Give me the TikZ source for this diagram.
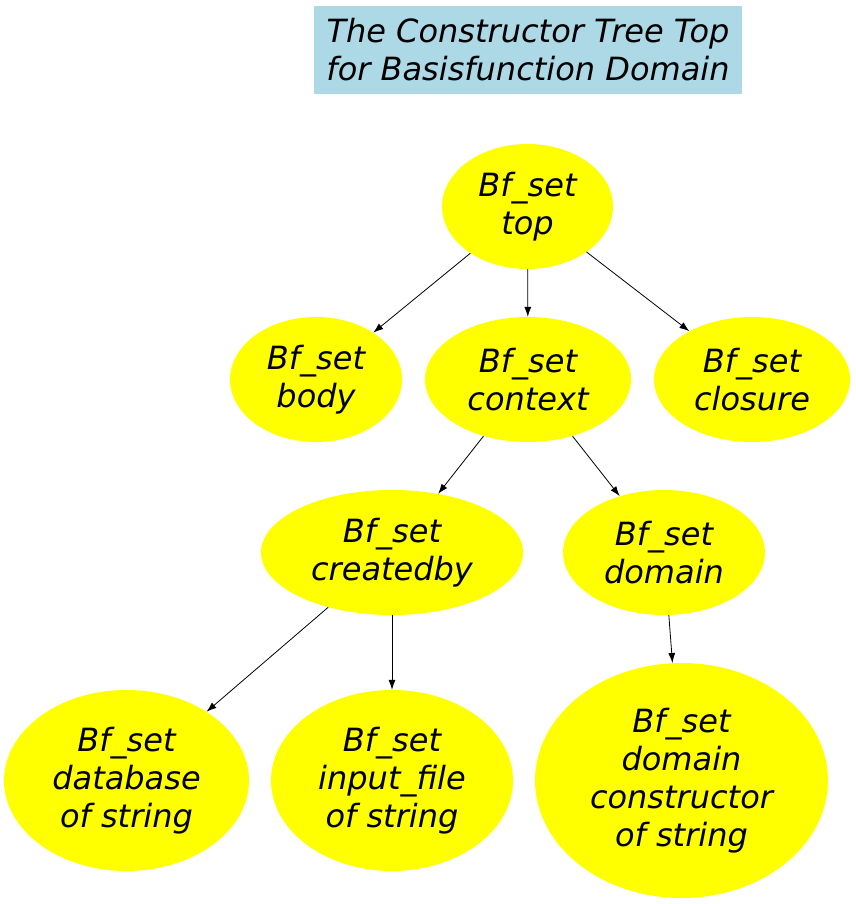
\documentclass[tikz,border=0pt]{standalone}
\usepackage{fontspec}
\setmainfont{DejaVu Sans}
\usetikzlibrary{shapes.geometric,arrows.meta}
\definecolor{lightblue}{RGB}{173,216,230}
\definecolor{pureyellow}{RGB}{255,255,0}
\begin{document}
\begin{tikzpicture}[x=1pt,y=-1pt,
  every node/.style={font=\fontsize{32}{38}\selectfont\itshape, align=center},
  bf/.style={ellipse, fill=pureyellow, inner sep=0pt},
  edge/.style={draw=black, line width=0.8pt, -{Latex[length=10pt,width=7pt]}}]
\useasboundingbox (0,0) rectangle (855,904);
\node[fill=lightblue, minimum width=428pt, minimum height=88pt, inner sep=0pt] (title) at (528,50) {The Constructor Tree Top\\for Basisfunction Domain};
\node[bf, minimum width=171pt, minimum height=125pt] (top) at (527.5,206.5) {Bf\_set\\top};
\node[bf, minimum width=172pt, minimum height=125pt] (body) at (316,379.5) {Bf\_set\\body};
\node[bf, minimum width=206pt, minimum height=125pt] (context) at (528,379.5) {Bf\_set\\context};
\node[bf, minimum width=196pt, minimum height=125pt] (closure) at (752,379.5) {Bf\_set\\closure};
\node[bf, minimum width=262pt, minimum height=125pt] (createdby) at (392,552.5) {Bf\_set\\createdby};
\node[bf, minimum width=202pt, minimum height=125pt] (domain) at (664,552.5) {Bf\_set\\domain};
\node[bf, minimum width=245pt, minimum height=181pt] (database) at (126.5,780.5) {Bf\_set\\database\\of string};
\node[bf, minimum width=242pt, minimum height=181pt] (input) at (392,780.5) {Bf\_set\\input\_file\\of string};
\node[bf, minimum width=293pt, minimum height=235pt] (cons) at (681.5,780.5) {Bf\_set\\domain\\constructor\\of string};
\draw[edge] (top) -- (body);
\draw[edge] (top) -- (context);
\draw[edge] (top) -- (closure);
\draw[edge] (context) -- (createdby);
\draw[edge] (context) -- (domain);
\draw[edge] (createdby) -- (database);
\draw[edge] (createdby) -- (input);
\draw[edge] (domain) -- (cons);
\end{tikzpicture}
\end{document}
